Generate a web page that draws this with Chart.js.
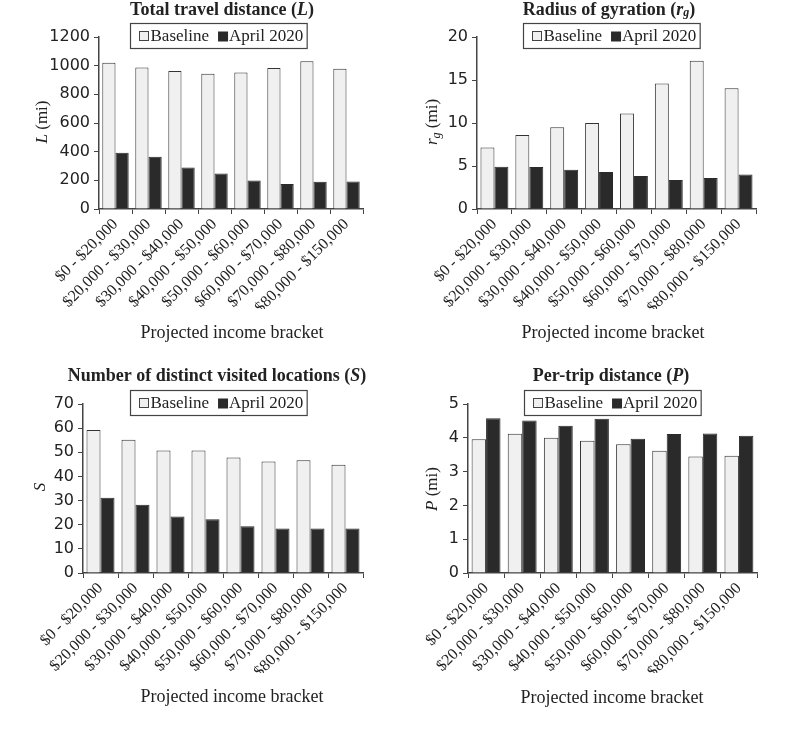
<!DOCTYPE html>
<html>
<head>
<meta charset="utf-8">
<script src="https://cdn.jsdelivr.net/npm/chart.js@4.4.1/dist/chart.umd.min.js"></script>
<style>
  body { margin: 0; background: #fff; }
  #wrap { position: relative; width: 787px; height: 730px; }
  canvas { position: absolute; }
</style>
</head>
<body>
<div id="wrap">
  <canvas id="c1" width="393" height="365" style="left:0;top:0"></canvas>
  <canvas id="c2" width="394" height="365" style="left:393px;top:0"></canvas>
  <canvas id="c3" width="393" height="365" style="left:0;top:365px"></canvas>
  <canvas id="c4" width="394" height="365" style="left:393px;top:365px"></canvas>
</div>
<script>
const categories = ['$0 - $20,000', '$20,000 - $30,000', '$30,000 - $40,000', '$40,000 - $50,000',
    '$50,000 - $60,000', '$60,000 - $70,000', '$70,000 - $80,000', '$80,000 - $150,000'];
const seriesNames = ['Baseline', 'April 2020'];

const travelBaseline = [1020, 988, 963, 943, 953, 984, 1030, 979];
const travelApril = [392, 365, 290, 248, 199, 174, 190, 192];

const gyrationBaseline = [7.15, 8.6, 9.5, 10.0, 11.1, 14.6, 17.25, 14.03];
const gyrationApril = [4.9, 4.87, 4.56, 4.3, 3.83, 3.37, 3.6, 4.0];

const locationsBaseline = [59.2, 55.2, 50.7, 50.7, 47.8, 46.2, 46.7, 44.8];
const locationsApril = [31.2, 28.3, 23.4, 22.3, 19.4, 18.4, 18.4, 18.4];

const perTripBaseline = [3.96, 4.12, 4.0, 3.91, 3.81, 3.62, 3.45, 3.47];
const perTripApril = [4.58, 4.51, 4.36, 4.56, 3.97, 4.11, 4.13, 4.06];

// [min, max, step]
const travelRange = [0, 1200, 200];
const gyrationRange = [0, 20, 5];
const locationsRange = [0, 70, 10];
const perTripRange = [0, 5, 1];

const SERIF = '"Liberation Serif"';
const INK = '#222';
const AXIS = '#444';

function drawParts(ctx, parts, x, y) {
    let total = 0;
    parts.forEach(p => { ctx.font = p.font; total += ctx.measureText(p.text).width; });
    let cx = x - total / 2;
    ctx.textAlign = 'left';
    ctx.textBaseline = 'middle';
    parts.forEach(p => {
        ctx.font = p.font;
        ctx.fillText(p.text, cx, y + (p.dy || 0));
        cx += ctx.measureText(p.text).width;
    });
}

const tB = 'bold 18px ' + SERIF, tBI = 'bold italic 18px ' + SERIF, tSub = 'bold italic 12px ' + SERIF;
const aR = '17px ' + SERIF, aI = 'italic 17px ' + SERIF, aSub = 'italic 12px ' + SERIF;
const xT = '18px ' + SERIF;
const legFont = '17px ' + SERIF;

const panels = [
    { id: 'c1', base: travelBaseline, apr: travelApril, range: travelRange,
      area: { l: 99, r: 363, t: 37, b: 209 },
      title: [{ text: 'Total travel distance (', font: tB }, { text: 'L', font: tBI }, { text: ')', font: tB }],
      yTitle: [{ text: 'L', font: aI }, { text: ' (mi)', font: aR }],
      titlePos: [222, 10], yTitlePos: [43, 122], xTitlePos: [232, 333] },
    { id: 'c2', base: gyrationBaseline, apr: gyrationApril, range: gyrationRange,
      area: { l: 84, r: 363, t: 37, b: 209 },
      title: [{ text: 'Radius of gyration (', font: tB }, { text: 'r', font: tBI }, { text: 'g', font: tSub, dy: 3 }, { text: ')', font: tB }],
      yTitle: [{ text: 'r', font: aI }, { text: 'g', font: aSub, dy: 4 }, { text: ' (mi)', font: aR }],
      titlePos: [216, 10], yTitlePos: [40, 122], xTitlePos: [220, 333] },
    { id: 'c3', base: locationsBaseline, apr: locationsApril, range: locationsRange,
      area: { l: 83, r: 363, t: 39, b: 208 },
      title: [{ text: 'Number of distinct visited locations (', font: tB }, { text: 'S', font: tBI }, { text: ')', font: tB }],
      yTitle: [{ text: 'S', font: aI }],
      titlePos: [217, 11], yTitlePos: [41, 122], xTitlePos: [232, 332] },
    { id: 'c4', base: perTripBaseline, apr: perTripApril, range: perTripRange,
      area: { l: 75, r: 364, t: 39, b: 208 },
      title: [{ text: 'Per-trip distance (', font: tB }, { text: 'P', font: tBI }, { text: ')', font: tB }],
      yTitle: [{ text: 'P', font: aI }, { text: ' (mi)', font: aR }],
      titlePos: [218, 11], yTitlePos: [40, 124], xTitlePos: [219, 333] }
];

const X_AXIS_H = 100;

panels.forEach(p => {
    const canvas = document.getElementById(p.id);
    const W = canvas.width, H = canvas.height;

    const decor = {
        id: 'decor' + p.id,
        afterDraw(chart) {
            const ctx = chart.ctx;
            const ca = chart.chartArea;
            ctx.save();
            ctx.fillStyle = INK;
            drawParts(ctx, p.title, p.titlePos[0], p.titlePos[1]);
            drawParts(ctx, [{ text: 'Projected income bracket', font: xT }], p.xTitlePos[0], p.xTitlePos[1]);

            ctx.save();
            ctx.translate(p.yTitlePos[0], p.yTitlePos[1]);
            ctx.rotate(-Math.PI / 2);
            drawParts(ctx, p.yTitle, 0, 0);
            ctx.restore();

            // legend box
            ctx.font = legFont;
            const w1 = ctx.measureText(seriesNames[0]).width;
            const w2 = ctx.measureText(seriesNames[1]).width;
            const sw = 9;
            const boxW = 9 + sw + 2 + w1 + 9 + sw + 2 + w2 + 4;
            const boxH = 25;
            const bx = Math.round(ca.right - 56 - boxW) + 0.5;
            const by = Math.round(ca.top - 14) + 0.5;
            ctx.fillStyle = '#fff';
            ctx.fillRect(bx, by, boxW, boxH);
            ctx.strokeStyle = AXIS;
            ctx.lineWidth = 1.2;
            ctx.strokeRect(bx, by, boxW, boxH);
            const my = by + boxH / 2;
            let cx = bx + 9;
            ctx.fillStyle = '#f0f0f0';
            ctx.fillRect(cx, my - sw / 2, sw, sw);
            ctx.lineWidth = 1;
            ctx.strokeRect(cx, my - sw / 2, sw, sw);
            cx += sw + 2;
            ctx.fillStyle = INK;
            ctx.textAlign = 'left';
            ctx.textBaseline = 'middle';
            ctx.fillText(seriesNames[0], cx, my + 1);
            cx += w1 + 9;
            ctx.fillStyle = '#2a2a2a';
            ctx.fillRect(cx, my - sw / 2, sw + 1, sw + 1);
            cx += sw + 2;
            ctx.fillStyle = INK;
            ctx.fillText(seriesNames[1], cx, my + 1);
            ctx.restore();
        }
    };

    new Chart(canvas, {
        type: 'bar',
        data: {
            labels: categories,
            datasets: [{
                label: seriesNames[0],
                data: p.base,
                backgroundColor: '#f0f0f0',
                borderColor: '#333',
                borderWidth: 1
            }, {
                label: seriesNames[1],
                data: p.apr,
                backgroundColor: '#2a2a2a',
                borderColor: '#2a2a2a',
                borderWidth: 1
            }]
        },
        options: {
            responsive: false,
            animation: false,
            layout: {
                padding: { top: p.area.t, right: W - p.area.r, bottom: H - p.area.b - X_AXIS_H, left: 0 }
            },
            datasets: { bar: { categoryPercentage: 0.8, barPercentage: 1 } },
            plugins: {
                legend: { display: false },
                tooltip: { enabled: false }
            },
            scales: {
                x: {
                    grid: { drawOnChartArea: false, color: AXIS, tickLength: 5 },
                    border: { color: AXIS, width: 1.5 },
                    ticks: {
                        minRotation: 45,
                        maxRotation: 45,
                        autoSkip: false,
                        color: INK,
                        padding: 1,
                        font: { family: 'Liberation Serif', size: 16 }
                    },
                    afterFit(s) { s.height = X_AXIS_H; s.paddingLeft = 0; s.paddingRight = 0; }
                },
                y: {
                    min: p.range[0],
                    max: p.range[1],
                    ticks: {
                        stepSize: p.range[2],
                        color: INK,
                        padding: 4,
                        font: { family: 'DejaVu Sans', size: 16 },
                        callback: v => String(v)
                    },
                    grid: { drawOnChartArea: false, color: AXIS, tickLength: 5 },
                    border: { color: AXIS, width: 1.5 },
                    afterFit(s) { s.width = p.area.l; s.paddingTop = 0; s.paddingBottom = 0; }
                }
            }
        },
        plugins: [decor]
    });
});
</script>
</body>
</html>
